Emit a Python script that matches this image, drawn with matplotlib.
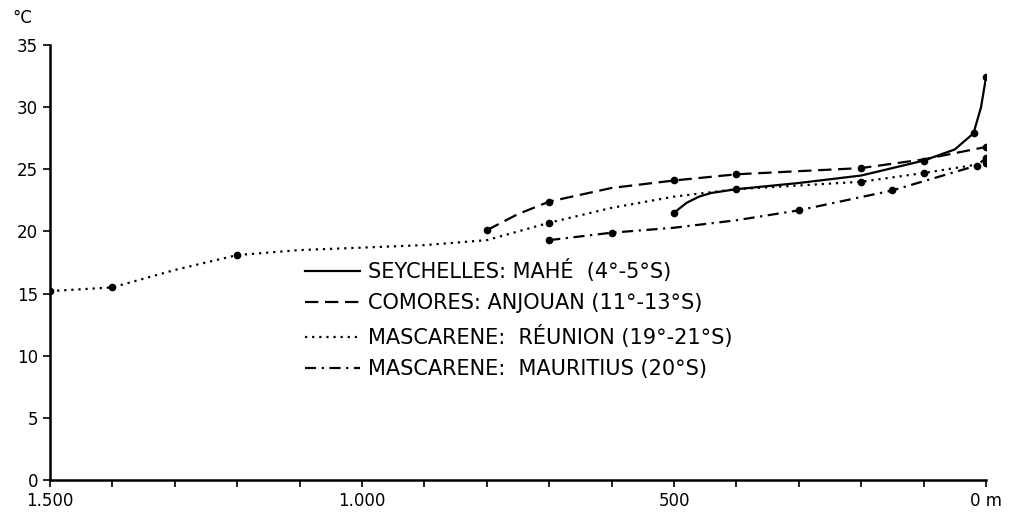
import numpy as np
import matplotlib
matplotlib.use('Agg')
import matplotlib.pyplot as plt

# depth (m) and temperature (deg C)
# traced curve positions, markers only on measured points
mahe_depth = [500, 480, 460, 440, 400, 300, 200, 100, 50, 20, 8, 0]
mahe_temp = [21.5, 22.3, 22.8, 23.1, 23.4, 23.9, 24.5, 25.7, 26.6, 27.9, 30.0, 32.4]
mahe_mark_depth = [500, 400, 100, 20, 0]
mahe_mark_temp = [21.5, 23.4, 25.7, 27.9, 32.4]

anjouan_depth = [800, 750, 700, 600, 500, 400, 200, 100, 0]
anjouan_temp = [20.1, 21.4, 22.4, 23.5, 24.1, 24.6, 25.1, 25.8, 26.8]
anjouan_mark_depth = [800, 700, 500, 400, 200, 0]
anjouan_mark_temp = [20.1, 22.4, 24.1, 24.6, 25.1, 26.8]

reunion_depth = [1500, 1400, 1300, 1200, 1100, 1000, 900, 800, 700, 600, 500, 400, 200, 100, 0]
reunion_temp = [15.2, 15.5, 16.9, 18.1, 18.5, 18.7, 18.9, 19.3, 20.7, 21.9, 22.8, 23.4, 24.0, 24.7, 25.5]
reunion_mark_depth = [1500, 1400, 1200, 700, 200, 100, 0]
reunion_mark_temp = [15.2, 15.5, 18.1, 20.7, 24.0, 24.7, 25.5]

mauritius_depth = [700, 600, 500, 400, 300, 150, 15, 0]
mauritius_temp = [19.3, 19.9, 20.3, 20.9, 21.7, 23.3, 25.3, 25.9]
mauritius_mark_depth = [700, 600, 300, 150, 15, 0]
mauritius_mark_temp = [19.3, 19.9, 21.7, 23.3, 25.3, 25.9]

labels = ['SEYCHELLES: MAHÉ  (4°-5°S)',
          'COMORES: ANJOUAN (11°-13°S)',
          'MASCARENE:  RÉUNION (19°-21°S)',
          'MASCARENE:  MAURITIUS (20°S)']

fig = plt.figure(figsize=(10.14, 5.2), dpi=100)
ax = fig.add_axes([0.0493, 0.0769, 0.9231, 0.8365])

lw = 1.6
l1, = ax.plot(mahe_depth, mahe_temp, color='black', lw=lw, ls='-')
l2, = ax.plot(anjouan_depth, anjouan_temp, color='black', lw=lw, ls=(0, (6, 3)))
l3, = ax.plot(reunion_depth, reunion_temp, color='black', lw=lw, ls=(0, (1, 2.2)))
l4, = ax.plot(mauritius_depth, mauritius_temp, color='black', lw=lw, ls=(0, (5, 2.5, 1, 2.5)))

for d, t in [(mahe_mark_depth, mahe_mark_temp), (anjouan_mark_depth, anjouan_mark_temp),
             (reunion_mark_depth, reunion_mark_temp), (mauritius_mark_depth, mauritius_mark_temp)]:
    ax.plot(d, t, 'o', color='black', ms=4.5, ls='none')

ax.set_xlim(1500, 0)
ax.set_ylim(0, 35)
ax.spines['top'].set_visible(False)
ax.spines['right'].set_visible(False)
ax.spines['left'].set_linewidth(1.8)
ax.spines['bottom'].set_linewidth(1.8)

xt = np.arange(1500, -1, -100)
ax.set_xticks(xt)
xl = {1500: '1.500', 1000: '1.000', 500: '500', 0: '0 m'}
ax.set_xticklabels([xl.get(v, '') for v in xt], fontsize=11)
ax.set_yticks(range(0, 36, 5))
ax.tick_params(axis='both', direction='out', length=5, width=1.2, labelsize=12)

fig.text(0.012, 0.965, '°C', fontsize=12, va='center')

fig.legend([l1, l2, l3, l4], labels, loc='upper left',
           bbox_to_anchor=(0.282, 0.538), frameon=False, fontsize=15,
           handlelength=2.65, handletextpad=0.4, labelspacing=0.55)

fig.savefig('out.png', dpi=100)
